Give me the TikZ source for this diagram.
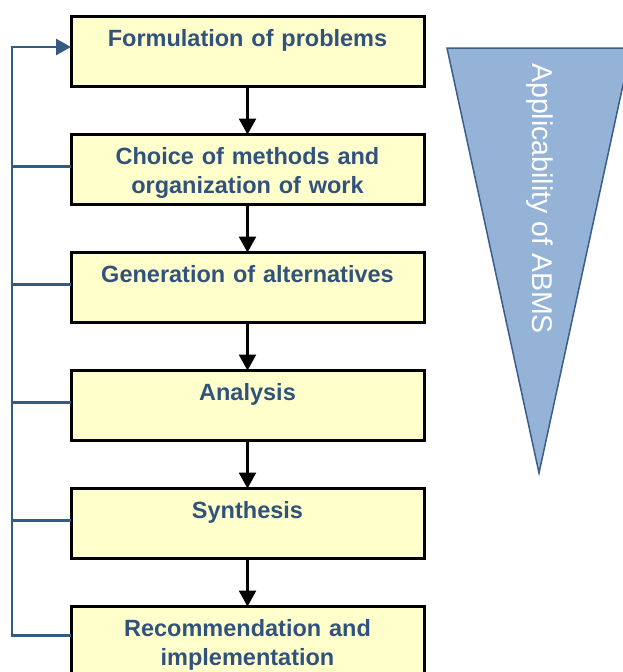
\documentclass[tikz,border=0pt]{standalone}
\usepackage{fontspec}
\setmainfont{Liberation Sans}
\usetikzlibrary{positioning,calc,arrows.meta}
\definecolor{boxfill}{HTML}{FFFFCC}
\definecolor{boxtext}{RGB}{49,82,125}
\definecolor{loopline}{RGB}{55,90,130}
\definecolor{wedgefill}{HTML}{95B3D7}
\definecolor{wedgeline}{RGB}{58,94,140}
\tikzset{
	stepbox/.style={draw=black, line width=3pt, fill=boxfill, text=boxtext,
		font=\bfseries\fontsize{23.5}{29}\selectfont, text width=340pt, align=center,
		inner xsep=6.5pt, inner ysep=0pt, text height=29.5pt, text depth=40.5pt, outer sep=0pt},
	flow/.style={draw=black, line width=2.5pt, -{Triangle[width=17pt,length=16pt]}},
	feedback/.style={draw=loopline, line width=2.5pt},
}

\begin{document}
\begin{tikzpicture}[x=1pt, y=-1pt]
						\useasboundingbox (0,0) rectangle (622,672);

						% steps
						\node[stepbox, anchor=north] (b1) at (247.5,16.5) {Formulation of problems};
						\node[stepbox, below=48pt of b1] (b2) {Choice of methods and\\organization of work};
						\node[stepbox, below=48pt of b2] (b3) {Generation of alternatives};
						\node[stepbox, below=48pt of b3] (b4) {Analysis};
						\node[stepbox, below=48pt of b4] (b5) {Synthesis};
						\node[stepbox, below=48pt of b5] (b6) {Recommendation and\\implementation};

						\foreach \i/\j in {1/2,2/3,3/4,4/5,5/6}
							\draw[flow] (b\i) -- (b\j);

						% feedback loop
						\coordinate (bus) at (12,47);
						\draw[feedback, -{Triangle[width=16pt,length=15pt]}] ([yshift=6pt]b6.west) -| (bus) -- (bus -| b1.west);
						\foreach \k in {2,...,5}
							\draw[feedback] ([yshift=3pt]b\k.west) -- ([yshift=3pt]bus |- b\k.west);

						% wedge
						\filldraw[fill=wedgefill, draw=wedgeline, line width=1.5pt] (447,48) -- (631,48) -- (539,473) -- cycle;
						\node[rotate=-90, anchor=base west, text=white, font=\fontsize{28.5}{34}\selectfont, inner sep=0pt] (abms) at (532,63) {Applicability of ABMS};
					\end{tikzpicture}
\end{document}
